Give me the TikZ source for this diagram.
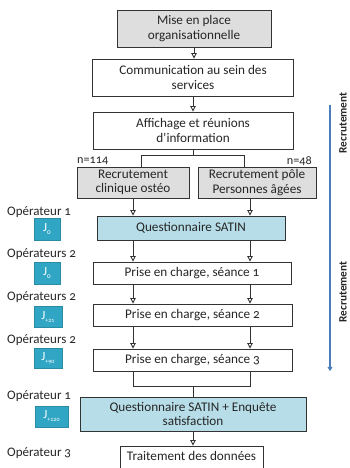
\documentclass[tikz,border=0pt]{standalone}
\usepackage{fontspec}
\setmainfont[Numbers=OldStyle]{Carlito}
\usetikzlibrary{arrows.meta}
\definecolor{greyfill}{HTML}{DEDEDE}
\definecolor{bluefill}{HTML}{B7DEE8}
\definecolor{jfill}{HTML}{31A6C4}
\definecolor{jdraw}{HTML}{2A8BA5}
\definecolor{bluearrow}{HTML}{4A7EBB}
\definecolor{edge}{HTML}{333333}
\definecolor{txt}{HTML}{262626}
\begin{document}
\begin{tikzpicture}[x=1pt,y=-1pt,
  box/.style={draw=edge, line width=0.9pt, align=center, inner sep=0pt,
    font=\fontsize{13.2}{14.5}\selectfont, text=txt},
  greybox/.style={box, fill=greyfill},
  bluebox/.style={box, fill=bluefill},
  whitebox/.style={box, fill=white},
  jbox/.style={draw=jdraw, line width=0.8pt, fill=jfill, text=white, inner sep=0pt},
  jmain/.style={font=\fontsize{12.5}{12.5}\selectfont},
  oplabel/.style={anchor=west, inner sep=0pt, font=\fontsize{13}{14}\selectfont, text=txt},
  nlabel/.style={inner sep=0pt, font=\fontsize{12.2}{13}\selectfont, text=txt},
  sidelabel/.style={rotate=90, inner sep=0pt, font=\bfseries\fontsize{11.3}{12}\selectfont, text=txt},
  conn/.style={draw=edge, line width=0.9pt},
  arr/.style={conn, -{Triangle[open, length=5.5pt, width=5.5pt]}},
  blarr/.style={draw=bluearrow, line width=1.1pt, -{Straight Barb[length=3pt, width=4pt]}}
]
\useasboundingbox (0,0) rectangle (349,468);

% main boxes
\node[greybox, minimum width=154pt, minimum height=37pt] (mise) at (194,28.5) {Mise en place\\organisationnelle};
\node[whitebox, minimum width=201pt, minimum height=37pt] (comm) at (193,77.5) {Communication au sein des\\services};
\node[whitebox, minimum width=200pt, minimum height=37pt] (aff) at (193,130.5) {Affichage et réunions\\d’information};
\node[greybox, minimum width=112pt, minimum height=31pt] (rc) at (133,182.5) {Recrutement\\clinique ostéo};
\node[greybox, minimum width=118pt, minimum height=31pt] (rp) at (257,182.5) {Recrutement pôle\\Personnes âgées};
\node[bluebox, minimum width=188pt, minimum height=24pt] (sat) at (191,228) {Questionnaire SATIN};
\node[whitebox, minimum width=198pt, minimum height=22pt] (s1) at (192,273) {Prise en charge, séance 1};
\node[whitebox, minimum width=199pt, minimum height=22pt] (s2) at (192.5,315) {Prise en charge, séance 2};
\node[whitebox, minimum width=199pt, minimum height=22pt] (s3) at (192.5,360) {Prise en charge, séance 3};
\node[bluebox, minimum width=226pt, minimum height=34pt] (se) at (193,414) {Questionnaire SATIN + Enquête\\satisfaction};
\node[whitebox, minimum width=143pt, minimum height=34pt] (tr) at (191.5,463) {};
\node[box, draw=none, fill=none] (trt) at (191.5,455.5) {Traitement des données};

% n labels
\node[nlabel, anchor=west] (n1) at (77,161) {n=114};
\node[nlabel, anchor=east] (n2) at (312,161) {n=48};

% column coordinates
\coordinate (colL) at (133,0);
\coordinate (colR) at (250,0);
\coordinate (splitL) at (141,155.5);
\coordinate (splitR) at (244,155.5);
\coordinate (mergeY) at (0,386);

% connectors
\draw[arr] (mise.south) -- (mise.south |- comm.north);
\draw[arr] (comm.south) -- (comm.south |- aff.north);
\draw[conn] (aff.south) -- (aff.south |- splitL);
\draw[conn] (splitL |- rc.north) -- (splitL) -- (splitR) -- (splitR |- rp.north);
\draw[arr] (colL |- rc.south) -- (colL |- sat.north);
\draw[arr] (colR |- rp.south) -- (colR |- sat.north);
\draw[arr] (colL |- sat.south) -- (colL |- s1.north);
\draw[arr] (colR |- sat.south) -- (colR |- s1.north);
\draw[arr] (colL |- s1.south) -- (colL |- s2.north);
\draw[arr] (colR |- s1.south) -- (colR |- s2.north);
\draw[arr] (colL |- s2.south) -- (colL |- s3.north);
\draw[arr] (colR |- s2.south) -- (colR |- s3.north);
\draw[conn] (colL |- s3.south) -- (colL |- mergeY) -- (colR |- mergeY) -- (colR |- s3.south);
\draw[conn] (se.north |- mergeY) -- (se.north);
\draw[arr] (se.south) -- (se.south |- tr.north);

% operator labels
\node[oplabel] (o1) at (7,212) {Opérateur 1};
\node[oplabel] (o2) at (7,254.5) {Opérateurs 2};
\node[oplabel] (o3) at (7,297) {Opérateurs 2};
\node[oplabel] (o4) at (7,340) {Opérateurs 2};
\node[oplabel] (o5) at (7,396) {Opérateur 1};
\node[oplabel] (o6) at (7,453) {Opérateur 3};

% J boxes
\node[jbox, minimum width=26pt, minimum height=22pt] (j1) at (47,229) {\fontsize{12.5}{12.5}\selectfont J\raisebox{-3pt}{\fontsize{7}{7}\selectfont 0}};
\node[jbox, minimum width=26pt, minimum height=22pt] (j2) at (47,273) {\fontsize{12.5}{12.5}\selectfont J\raisebox{-3pt}{\fontsize{7}{7}\selectfont 0}};
\node[jbox, minimum width=28pt, minimum height=21pt] (j3) at (48,316.5) {\fontsize{12.5}{12.5}\selectfont J\raisebox{-3pt}{\fontsize{6}{6}\selectfont +21}};
\node[jbox, minimum width=28pt, minimum height=20pt] (j4) at (48,358) {\fontsize{12.5}{12.5}\selectfont J\raisebox{-3pt}{\fontsize{6}{6}\selectfont +90}};
\node[jbox, minimum width=33pt, minimum height=21pt] (j5) at (51.5,416.5) {\fontsize{12.5}{12.5}\selectfont J\raisebox{-3pt}{\fontsize{6}{6}\selectfont +120}};

% right side blue arrow and labels
\coordinate (btop) at (330,105);
\coordinate (bbot) at (330,371);
\draw[blarr] (btop) -- (bbot);
\node[sidelabel] (r1) at (343,123) {Recrutement};
\node[sidelabel] (r2) at (343,292) {Recrutement};
\end{tikzpicture}
\end{document}
